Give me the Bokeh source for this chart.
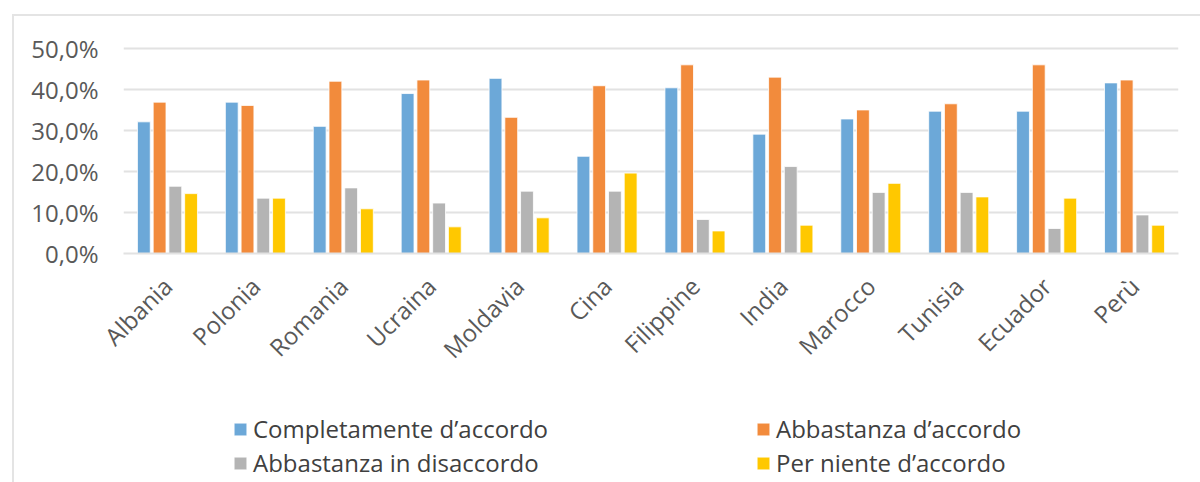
import math

from bokeh.embed import file_html
from bokeh.layouts import column
from bokeh.models import FixedTicker, Legend, LegendItem, ColumnDataSource
from bokeh.plotting import figure
from bokeh.resources import INLINE
from bokeh.transform import dodge

# Survey answers by country of origin (% of respondents)
countries = ["Albania", "Polonia", "Romania", "Ucraina", "Moldavia", "Cina",
             "Filippine", "India", "Marocco", "Tunisia", "Ecuador", "Perù"]
completamente_accordo = [32.1, 36.9, 31.0, 39.0, 42.7, 23.7, 40.4, 29.1, 32.8, 34.7, 34.7, 41.6]
abbastanza_accordo = [36.9, 36.1, 42.0, 42.3, 33.2, 40.9, 46.0, 43.0, 35.0, 36.5, 46.0, 42.3]
abbastanza_disaccordo = [16.4, 13.5, 16.0, 12.3, 15.2, 15.2, 8.3, 21.2, 14.9, 14.9, 6.1, 9.4]
per_niente_accordo = [14.6, 13.5, 10.9, 6.5, 8.7, 19.6, 5.5, 6.9, 17.1, 13.8, 13.5, 6.9]

series_names = ["Completamente d’accordo", "Abbastanza d’accordo",
                "Abbastanza in disaccordo", "Per niente d’accordo"]
series_colors = ["#6CA8D8", "#F28B3C", "#B4B4B4", "#FFC800"]

y_ticks = [0, 10, 20, 30, 40, 50]
y_tick_labels = ["0,0%", "10,0%", "20,0%", "30,0%", "40,0%", "50,0%"]

source = ColumnDataSource(data=dict(
    country=countries,
    s0=completamente_accordo,
    s1=abbastanza_accordo,
    s2=abbastanza_disaccordo,
    s3=per_niente_accordo,
))

FONT = "Open Sans"
LABEL_COLOR = "#595959"
GRID_COLOR = "#E2E2E2"
BAR_STEP = 0.179
BAR_WIDTH = 0.146

# ---- main bar chart ----
p = figure(
    x_range=countries, y_range=(0, 51.2),
    width=1186, height=380,
    min_border_left=109, min_border_right=22,
    min_border_top=27, min_border_bottom=143,
    output_backend="svg", toolbar_location=None,
    background_fill_color="white", border_fill_color="white",
)
p.outline_line_color = None

for i, color in enumerate(series_colors):
    p.vbar(
        x=dodge("country", (i - 1.5) * BAR_STEP, range=p.x_range),
        top=f"s{i}", width=BAR_WIDTH, source=source,
        fill_color=color, line_color="white", line_width=0.8,
    )

p.xgrid.grid_line_color = None
p.ygrid.grid_line_color = GRID_COLOR
p.ygrid.grid_line_width = 2
p.yaxis.ticker = FixedTicker(ticks=y_ticks)
p.yaxis.major_label_overrides = {t: lab for t, lab in zip(y_ticks, y_tick_labels)}
p.yaxis.axis_line_color = None
p.yaxis.major_tick_line_color = None
p.yaxis.minor_tick_line_color = None
p.yaxis.major_tick_out = 0
p.yaxis.major_label_standoff = 25

p.xaxis.axis_line_color = GRID_COLOR
p.xaxis.axis_line_width = 2
p.xaxis.major_tick_line_color = None
p.xaxis.minor_tick_line_color = None
p.xaxis.major_tick_out = 0
p.xaxis.major_label_orientation = math.pi / 4
p.xaxis.major_label_standoff = 28

for ax in (p.xaxis, p.yaxis):
    ax.major_label_text_font = FONT
    ax.major_label_text_font_size = "24px"
    ax.major_label_text_color = LABEL_COLOR

# ---- legend strip under the chart (frame aligned with the chart above) ----
leg = figure(
    x_range=(0, 1), y_range=(0, 1),
    width=1186, height=86,
    min_border=0, x_axis_type=None, y_axis_type=None,
    output_backend="svg", toolbar_location=None,
    background_fill_color="white", border_fill_color="white",
)
leg.outline_line_color = None
leg.grid.visible = False

# zero-height swatch bars parked outside the strip's range; they only feed the legend
legend_renderers = [
    leg.vbar(x=[-1], top=[0], width=0.1,
             fill_color=c, line_color="white", line_width=0.8)
    for c in series_colors
]
legend = Legend(
    items=[LegendItem(label=n, renderers=[r]) for n, r in zip(series_names, legend_renderers)],
    location=(109, 3), orientation="horizontal", ncols=2,
    glyph_width=16, glyph_height=16, label_standoff=5,
    label_width=501, label_height=32, spacing=1,
    padding=0, margin=0,
    border_line_color=None, background_fill_alpha=0,
    label_text_font=FONT, label_text_font_size="24px", label_text_color="#404040",
)
leg.add_layout(legend)

# Light frame around the whole chart area
layout = column(p, leg, spacing=0)
layout.margin = (14, 0, 0, 12)
layout.styles = {"border-left": "2px solid #E4E4E4", "border-top": "2px solid #E4E4E4"}

open("out.html", "w").write(file_html(layout, INLINE))
